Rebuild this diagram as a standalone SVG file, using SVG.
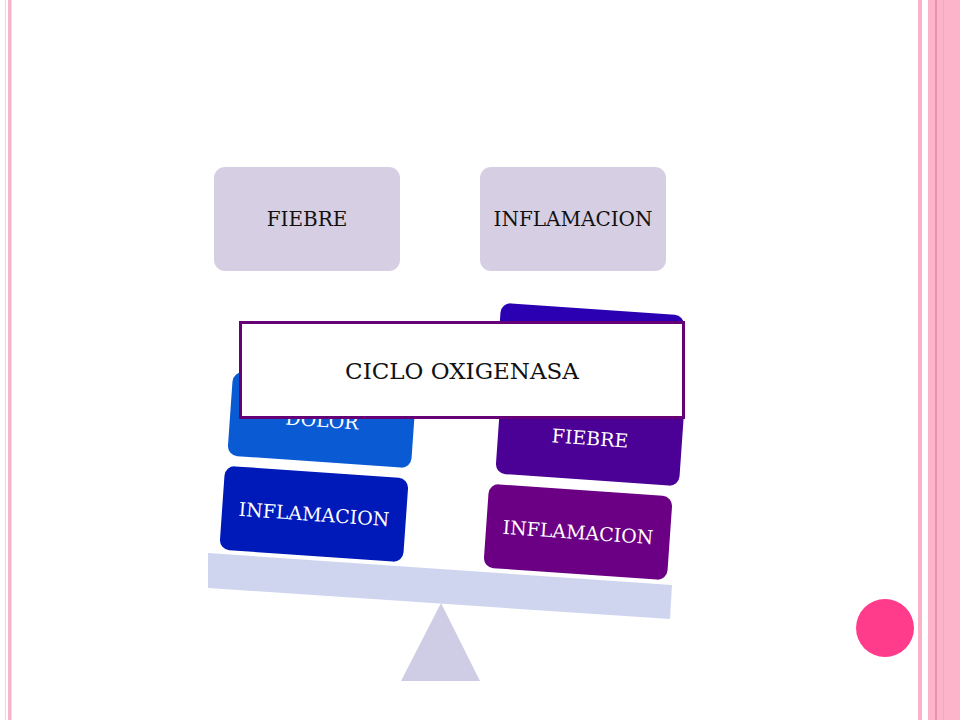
<svg xmlns="http://www.w3.org/2000/svg" width="960" height="720" viewBox="0 0 960 720">
<style>
.lbl{font-family:"DejaVu Serif","Liberation Serif",serif;font-size:19px;text-anchor:middle;dominant-baseline:central}
.big{font-size:20px}
.dark{fill:#111111}
.white{fill:#ffffff}
.top{fill:#d6cee2}
</style>
<defs>
<rect id="tb" x="-92" y="-42" width="184" height="84" rx="10" ry="10"/>
</defs>
<rect width="960" height="720" fill="#ffffff"/>
<g id="frame">
<rect x="5" y="0" width="1" height="720" fill="#fbd0dd"/>
<rect x="8" y="0" width="3.5" height="720" fill="#f8b4c8"/>
<rect x="918" y="0" width="4" height="720" fill="#fab2c8"/>
<rect x="928" y="0" width="32" height="720" fill="#fbb4ca"/>
<rect x="935.5" y="0" width="1" height="720" fill="#de6d9a"/>
<rect x="943" y="0" width="1" height="720" fill="#f6a6bf"/>
<circle cx="885" cy="628" r="29" fill="#ff3c8c"/>
</g>
<g id="fulcrum">
<polygon points="441,603 401,681 480,681" fill="#cfcde6"/>
</g>
<g id="beam">
<polygon points="208,553 672,585 670,619 208,588" fill="#cfd5ef"/>
</g>
<g id="node-fiebre-top">
<rect x="214" y="167" width="186" height="104" rx="11" ry="11" class="top"/>
<text x="307" y="219" class="lbl big dark">FIEBRE</text>
</g>
<g id="node-inflamacion-top">
<rect x="480" y="167" width="186" height="104" rx="11" ry="11" class="top"/>
<text x="573" y="219" class="lbl big dark">INFLAMACION</text>
</g>
<g id="node-inflamacion-left" transform="translate(314,514) rotate(4)">
<use href="#tb" fill="#0019b9"/>
<text x="0" y="0" class="lbl white">INFLAMACION</text>
</g>
<g id="node-dolor-left" transform="translate(322,420) rotate(4)">
<use href="#tb" fill="#0a5ad4"/>
<text x="0" y="0" class="lbl white">DOLOR</text>
</g>
<g id="node-inflamacion-right" transform="translate(578,532) rotate(4)">
<use href="#tb" fill="#6b0084"/>
<text x="0" y="0" class="lbl white">INFLAMACION</text>
</g>
<g id="node-hidden-right" transform="translate(590,351) rotate(4)">
<use href="#tb" fill="#2a00b2"/>
</g>
<g id="node-fiebre-right" transform="translate(590,438) rotate(4)">
<use href="#tb" fill="#4b0096"/>
<text x="0" y="0" class="lbl white">FIEBRE</text>
</g>
<g id="node-ciclo">
<rect x="240.5" y="322.5" width="443" height="95" fill="#ffffff" stroke="#660077" stroke-width="3"/>
<text x="462" y="371" class="lbl dark" style="font-size:23px">CICLO OXIGENASA</text>
</g>
</svg>
